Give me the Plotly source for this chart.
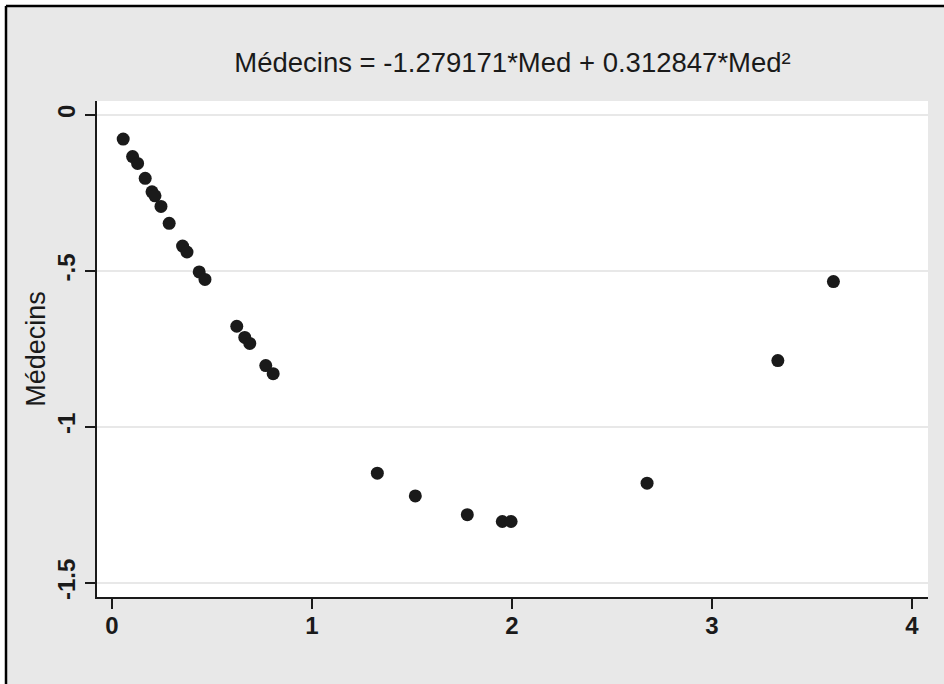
import plotly.graph_objects as go

# Data
med = [0.056, 0.103, 0.128, 0.166, 0.200, 0.215, 0.245, 0.286, 0.353, 0.375,
       0.436, 0.465, 0.624, 0.664, 0.689, 0.769, 0.806, 1.327, 1.517, 1.777,
       1.952, 1.996, 2.676, 3.330, 3.608]
medecins = [-0.077, -0.133, -0.155, -0.203, -0.246, -0.259, -0.293, -0.347, -0.420, -0.439,
            -0.503, -0.527, -0.677, -0.713, -0.732, -0.803, -0.829, -1.148, -1.221, -1.281,
            -1.303, -1.303, -1.180, -0.787, -0.534]

x_ticks = [0, 1, 2, 3, 4]
x_ticklabels = ["0", "1", "2", "3", "4"]
y_ticks = [0, -0.5, -1, -1.5]
y_ticklabels = ["0", "-.5", "-1", "-1.5"]

title_text = "Médecins = -1.279171*Med + 0.312847*Med²"
y_title = "Médecins"

W, H = 944, 684
L, R, T, B = 97, 16, 101, 87
pw, ph = W - L - R, H - T - B

def px_x(p):
    return (p - L) / pw

def px_y(p):
    return (H - B - p) / ph

fig = go.Figure()
fig.add_trace(go.Scatter(
    x=med, y=medecins, mode="markers",
    marker=dict(size=13, color="#1a1a1a", line=dict(width=0)),
    showlegend=False, hoverinfo="skip"))

font_main = "Liberation Sans, Arial, sans-serif"

fig.update_layout(
    width=W, height=H,
    margin=dict(l=L, r=R, t=T, b=B),
    paper_bgcolor="#e8e8e8",
    plot_bgcolor="white",
    title=dict(text=title_text, x=0.5, xref="paper", xanchor="center",
               y=1 - 62 / H, yanchor="middle",
               font=dict(family=font_main, size=27.5, color="#1a1a1a")),
    xaxis=dict(range=[-0.075, 4.081], tickvals=x_ticks, ticktext=x_ticklabels,
               showgrid=False, zeroline=False,
               showline=True, linecolor="#1a1a1a", linewidth=2,
               ticks="outside", ticklen=10, tickwidth=2, tickcolor="#1a1a1a",
               ticklabelstandoff=-4,
               tickfont=dict(family=font_main, size=24, color="#1a1a1a", weight="bold")),
    yaxis=dict(range=[-1.545, 0.045], tickvals=y_ticks, ticktext=y_ticklabels,
               showgrid=True, gridcolor="#e8e8e8", gridwidth=2, zeroline=False,
               showline=True, linecolor="#1a1a1a", linewidth=2,
               ticks="outside", ticklen=10, tickwidth=2, tickcolor="#1a1a1a",
               tickangle=-90,
               tickfont=dict(family=font_main, size=24, color="#1a1a1a", weight="bold"),
               title=dict(text=y_title, standoff=0,
                          font=dict(family=font_main, size=27, color="#1a1a1a"))),
    shapes=[
        # white strips outside the outer frame
        dict(type="rect", xref="paper", yref="paper", layer="below",
             x0=px_x(0), x1=px_x(W), y0=px_y(5), y1=px_y(0),
             fillcolor="white", line=dict(width=0)),
        dict(type="rect", xref="paper", yref="paper", layer="below",
             x0=px_x(0), x1=px_x(5), y0=px_y(H), y1=px_y(0),
             fillcolor="white", line=dict(width=0)),
        # outer frame (top and left)
        dict(type="line", xref="paper", yref="paper",
             x0=px_x(6), x1=px_x(W), y0=px_y(6), y1=px_y(6),
             line=dict(color="black", width=2.5)),
        dict(type="line", xref="paper", yref="paper",
             x0=px_x(6), x1=px_x(6), y0=px_y(6), y1=px_y(H),
             line=dict(color="black", width=2.5)),
    ],
)

fig.write_html("out.html",
               config={"displayModeBar": False},
               post_script="document.body.style.margin='0px';document.body.style.overflow='hidden';")
